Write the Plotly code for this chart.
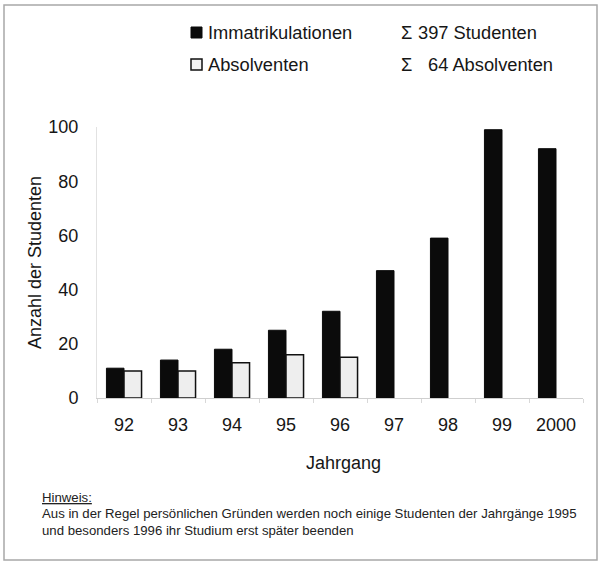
import plotly.graph_objects as go

# Data
jahrgang = ["92", "93", "94", "95", "96", "97", "98", "99", "2000"]
immatrikulationen = [11, 14, 18, 25, 32, 47, 59, 99, 92]
absolventen = [10, 10, 13, 16, 15, None, None, None, None]
summe_studenten = sum(immatrikulationen)
summe_absolventen = sum(v for v in absolventen if v is not None)

W, H = 599, 564
ML, MR, MT, MB = 97, 16, 127, 166
PW, PH = W - ML - MR, H - MT - MB
FONT = "Liberation Sans, Arial, Helvetica, sans-serif"
INK = "#161616"


def px(x):
    return (x - ML) / PW


def py(y):
    return (H - MB - y) / PH


fig = go.Figure()
fig.add_trace(go.Bar(
    x=jahrgang, y=immatrikulationen, name="Immatrikulationen",
    marker=dict(color="#0b0b0b", line=dict(color="#0b0b0b", width=1)),
))
fig.add_trace(go.Bar(
    x=jahrgang, y=absolventen, name="Absolventen",
    marker=dict(color="#eeeeee", line=dict(color="#111111", width=1.5)),
))

annotations = [
    # axis titles
    dict(text="Jahrgang", x=px(343), y=py(463), xanchor="center", yanchor="middle",
         font=dict(size=18, color=INK)),
    dict(text="Anzahl der Studenten", x=px(35), y=py(263), textangle=-90,
         xanchor="center", yanchor="middle", font=dict(size=18, color=INK)),
    # legend texts
    dict(text="Immatrikulationen", x=px(206), y=py(32), xanchor="left", yanchor="middle",
         font=dict(size=18.3, color=INK)),
    dict(text="Absolventen", x=px(206), y=py(64), xanchor="left", yanchor="middle",
         font=dict(size=18.3, color=INK)),
    dict(text="Σ", x=px(399), y=py(32), xanchor="left", yanchor="middle",
         font=dict(size=18.3, color=INK)),
    dict(text=f"{summe_studenten} Studenten", x=px(416), y=py(32), xanchor="left",
         yanchor="middle", font=dict(size=18.3, color=INK)),
    dict(text="Σ", x=px(399), y=py(64), xanchor="left", yanchor="middle",
         font=dict(size=18.3, color=INK)),
    dict(text=f"{summe_absolventen} Absolventen", x=px(426), y=py(64), xanchor="left",
         yanchor="middle", font=dict(size=18.3, color=INK)),
    # footnote
    dict(text="<u>Hinweis:</u>", x=px(40), y=py(497), xanchor="left", yanchor="middle",
         font=dict(size=13.2, color="#222222")),
    dict(text="Aus in der Regel persönlichen Gründen werden noch einige Studenten der Jahrgänge 1995",
         x=px(40), y=py(513), xanchor="left", yanchor="middle",
         font=dict(size=13.2, color="#222222")),
    dict(text="und besonders 1996 ihr Studium erst später beenden",
         x=px(40), y=py(530), xanchor="left", yanchor="middle",
         font=dict(size=13.2, color="#222222")),
]
for a in annotations:
    a.update(xref="paper", yref="paper", showarrow=False)

shapes = [
    # outer frame
    dict(type="rect", xref="paper", yref="paper",
         x0=px(4), x1=px(597), y0=py(5), y1=py(560),
         line=dict(color="#a8a8a8", width=1.5), fillcolor="rgba(0,0,0,0)", layer="below"),
    # legend swatches
    dict(type="rect", xref="paper", yref="paper",
         x0=px(191), x1=px(202), y0=py(27), y1=py(38),
         line=dict(color="#0b0b0b", width=1), fillcolor="#0b0b0b"),
    dict(type="rect", xref="paper", yref="paper",
         x0=px(191), x1=px(202), y0=py(59), y1=py(70),
         line=dict(color="#111111", width=1.5), fillcolor="#f2f2f2"),
]

fig.update_layout(
    width=W, height=H,
    margin=dict(l=ML, r=MR, t=MT, b=MB, autoexpand=False),
    paper_bgcolor="white", plot_bgcolor="white",
    font=dict(family=FONT, color=INK),
    barmode="group", bargap=0.35, bargroupgap=0,
    showlegend=False,
    annotations=annotations, shapes=shapes,
    xaxis=dict(
        type="category", range=[-0.5, 8.5],
        showline=True, linecolor="#cfcfcf", linewidth=1,
        ticks="outside", tickson="boundaries", ticklen=4, tickcolor="#d8d8d8",
        ticklabelstandoff=10,
        tickfont=dict(size=18, color=INK), showgrid=False, zeroline=False,
    ),
    yaxis=dict(
        range=[0, 100], tickvals=[0, 20, 40, 60, 80, 100],
        showline=True, linecolor="#e2e2e2", linewidth=1,
        ticks="", ticklabelstandoff=14,
        tickfont=dict(size=18, color=INK), showgrid=False, zeroline=False,
    ),
)

fig.write_html("out.html")
